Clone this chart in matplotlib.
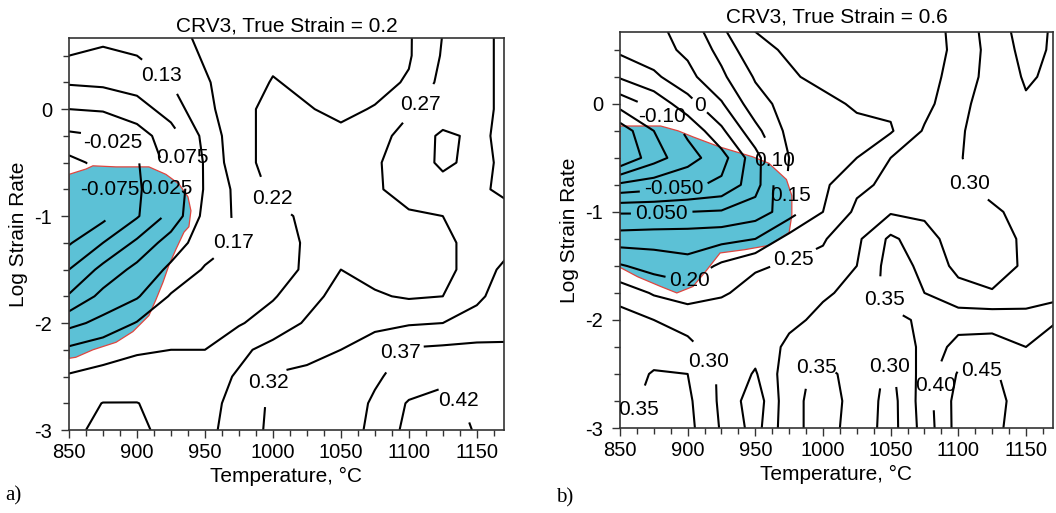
import numpy as np
import matplotlib
matplotlib.use("Agg")
import matplotlib.pyplot as plt
from matplotlib.ticker import MultipleLocator

plt.rcParams['font.family'] = ['Liberation Sans', 'DejaVu Sans']
plt.rcParams['axes.unicode_minus'] = False
plt.rcParams['contour.negative_linestyle'] = 'solid'

# grid: temperature [C] x log10(strain rate [1/s])
temps = [850, 875, 900, 925, 950, 975, 1000, 1025, 1050, 1075, 1100, 1125, 1150, 1175]
log_rates = [-3.0, -2.75, -2.5, -2.25, -2.0, -1.75, -1.5, -1.25,
             -1.0, -0.75, -0.5, -0.25, 0.0, 0.25, 0.5, 0.75]

# a) true strain 0.2, rows follow log_rates
eta_a = [
    [0.26, 0.29, 0.285, 0.26, 0.26, 0.30, 0.335, 0.345, 0.355, 0.385, 0.44, 0.455, 0.42, 0.405],
    [0.255, 0.276, 0.276, 0.26, 0.26, 0.29, 0.335, 0.345, 0.355, 0.38, 0.43, 0.445, 0.41, 0.40],
    [0.23, 0.24, 0.245, 0.25, 0.255, 0.28, 0.33, 0.34, 0.35, 0.37, 0.39, 0.41, 0.405, 0.395],
    [0.185, 0.205, 0.22, 0.225, 0.225, 0.265, 0.29, 0.305, 0.325, 0.355, 0.38, 0.385, 0.39, 0.39],
    [0.11, 0.14, 0.178, 0.195, 0.205, 0.22, 0.25, 0.28, 0.295, 0.31, 0.32, 0.325, 0.335, 0.34],
    [0.03, 0.09, 0.12, 0.18, 0.20, 0.21, 0.22, 0.26, 0.29, 0.28, 0.27, 0.275, 0.32, 0.34],
    [-0.025, 0.04, 0.09, 0.135, 0.18, 0.195, 0.21, 0.23, 0.275, 0.26, 0.26, 0.265, 0.29, 0.35],
    [-0.08, -0.025, 0.035, 0.10, 0.15, 0.18, 0.205, 0.23, 0.25, 0.255, 0.26, 0.265, 0.29, 0.31],
    [-0.11, -0.09, -0.03, 0.04, 0.14, 0.185, 0.21, 0.235, 0.255, 0.26, 0.27, 0.275, 0.30, 0.31],
    [-0.11, -0.085, -0.035, 0.035, 0.13, 0.19, 0.235, 0.25, 0.255, 0.27, 0.29, 0.305, 0.315, 0.34],
    [-0.09, -0.06, -0.03, 0.045, 0.13, 0.21, 0.24, 0.25, 0.25, 0.27, 0.295, 0.335, 0.31, 0.34],
    [-0.035, -0.025, 0.005, 0.05, 0.14, 0.21, 0.24, 0.245, 0.235, 0.26, 0.29, 0.335, 0.315, 0.34],
    [0.025, 0.03, 0.05, 0.10, 0.16, 0.21, 0.24, 0.228, 0.215, 0.228, 0.27, 0.29, 0.31, 0.34],
    [0.08, 0.085, 0.10, 0.125, 0.17, 0.20, 0.228, 0.215, 0.205, 0.21, 0.23, 0.29, 0.31, 0.34],
    [0.125, 0.115, 0.125, 0.15, 0.18, 0.20, 0.215, 0.21, 0.205, 0.21, 0.22, 0.28, 0.31, 0.34],
    [0.14, 0.145, 0.15, 0.165, 0.185, 0.19, 0.20, 0.205, 0.21, 0.21, 0.22, 0.275, 0.31, 0.34],
]

# b) true strain 0.6
eta_b = [
    [0.33, 0.37, 0.365, 0.295, 0.23, 0.335, 0.37, 0.33, 0.28, 0.37, 0.47, 0.46, 0.43, 0.42],
    [0.33, 0.365, 0.36, 0.29, 0.22, 0.335, 0.37, 0.335, 0.28, 0.375, 0.47, 0.465, 0.43, 0.42],
    [0.32, 0.355, 0.35, 0.29, 0.245, 0.33, 0.365, 0.33, 0.29, 0.37, 0.455, 0.455, 0.43, 0.42],
    [0.31, 0.32, 0.31, 0.28, 0.27, 0.31, 0.33, 0.33, 0.32, 0.36, 0.42, 0.42, 0.40, 0.41],
    [0.32, 0.30, 0.285, 0.275, 0.27, 0.29, 0.31, 0.33, 0.335, 0.36, 0.375, 0.38, 0.375, 0.40],
    [0.28, 0.245, 0.225, 0.245, 0.265, 0.28, 0.295, 0.31, 0.37, 0.35, 0.32, 0.305, 0.315, 0.33],
    [0.205, 0.18, 0.165, 0.21, 0.245, 0.255, 0.265, 0.30, 0.37, 0.34, 0.285, 0.27, 0.31, 0.33],
    [0.125, 0.13, 0.13, 0.135, 0.15, 0.22, 0.245, 0.29, 0.36, 0.32, 0.275, 0.275, 0.31, 0.32],
    [0.045, 0.045, 0.05, 0.055, 0.075, 0.125, 0.20, 0.26, 0.295, 0.29, 0.285, 0.295, 0.31, 0.33],
    [-0.09, -0.075, -0.06, -0.04, 0.03, 0.16, 0.19, 0.24, 0.26, 0.27, 0.295, 0.31, 0.32, 0.34],
    [-0.25, -0.17, -0.12, -0.07, 0.03, 0.15, 0.18, 0.20, 0.25, 0.27, 0.297, 0.32, 0.33, 0.34],
    [-0.23, -0.15, -0.09, -0.01, 0.085, 0.165, 0.18, 0.19, 0.195, 0.255, 0.295, 0.32, 0.335, 0.34],
    [-0.13, -0.085, -0.02, 0.045, 0.13, 0.17, 0.19, 0.205, 0.21, 0.235, 0.285, 0.325, 0.345, 0.34],
    [-0.045, -0.01, 0.035, 0.09, 0.155, 0.195, 0.21, 0.215, 0.22, 0.23, 0.27, 0.32, 0.355, 0.34],
    [0.01, 0.03, 0.06, 0.115, 0.19, 0.205, 0.21, 0.215, 0.22, 0.23, 0.26, 0.32, 0.365, 0.34],
    [0.03, 0.04, 0.075, 0.15, 0.205, 0.21, 0.215, 0.22, 0.225, 0.235, 0.26, 0.33, 0.37, 0.34],
]

levels_a = [-0.075, -0.025, 0.025, 0.075, 0.125, 0.175, 0.225, 0.275, 0.325, 0.375, 0.425]
names_a = ["-0.075", "-0.025", "0.025", "0.075", "0.13", "0.17", "0.22", "0.27", "0.32", "0.37", "0.42"]
levels_b = [-0.20, -0.15, -0.10, -0.05, 0.0, 0.05, 0.10, 0.15, 0.20, 0.25, 0.30, 0.35, 0.40, 0.45]
names_b = ["-0.20", "-0.15", "-0.10", "-0.050", "0", "0.050", "0.10", "0.15", "0.20", "0.25",
           "0.30", "0.35", "0.40", "0.45"]

# where the labels sit on the original maps
lab_a_T = [917, 884, 938, 881, 921, 998, 1105, 976, 994, 1086, 1137]
lab_a_L = [0.30, -0.28, -0.45, -0.74, -0.74, -0.85, 0.065, -1.27, -2.55, -2.2, -2.72]
lab_b_T = [879, 907, 890, 881, 961, 974, 902, 979, 1104, 917, 1039, 991, 1044, 865, 1079, 1117]
lab_b_L = [-0.15, -0.04, -0.80, -1.06, -0.52, -0.86, -1.65, -1.46, -0.75, -2.37, -1.87, -2.38,
           -2.37, -2.83, -2.6, -2.46]

# flow instability domains
unstable_a_T = [850, 862.5, 867.6, 884.6, 908.8, 921.3, 930.9, 937.5, 939.7, 938.2, 934.6, 928.7,
                923.5, 919.1, 914, 908.8, 897, 884.6, 867.6, 855, 850]
unstable_a_L = [-0.61, -0.56, -0.53, -0.54, -0.54, -0.61, -0.70, -0.82, -0.95, -1.10, -1.15, -1.31,
                -1.46, -1.62, -1.78, -1.93, -2.08, -2.18, -2.25, -2.32, -2.33]
unstable_b_T = [850, 880, 893, 904, 924, 948, 960, 973, 977, 977, 975, 960, 942, 924, 914, 904,
                892, 880, 863, 851, 850]
unstable_b_L = [-0.205, -0.205, -0.25, -0.306, -0.40, -0.49, -0.55, -0.70, -0.85, -1.03, -1.19,
                -1.31, -1.35, -1.38, -1.54, -1.69, -1.75, -1.69, -1.60, -1.52, -1.51]

fig = plt.figure(figsize=(10.56, 5.13), dpi=100)
ax_a = fig.add_axes([69 / 1056, 1 - 430 / 513, 435 / 1056, 392 / 513])
ax_b = fig.add_axes([620 / 1056, 1 - 428 / 513, 433 / 1056, 396 / 513])

panels = [
    (ax_a, eta_a, levels_a, names_a, lab_a_T, lab_a_L, unstable_a_T, unstable_a_L,
     "CRV3, True Strain = 0.2", 5),
    (ax_b, eta_b, levels_b, names_b, lab_b_T, lab_b_L, unstable_b_T, unstable_b_L,
     "CRV3, True Strain = 0.6", 7),
]

for ax, eta, levels, names, lt, ll, ut, ul, title, tpad in panels:
    ax.fill(ut, ul, facecolor="#5cc1d6", edgecolor="#e0463f", linewidth=0.9, zorder=1)
    cs = ax.contour(temps, log_rates, np.array(eta), levels=levels, colors="black",
                    linewidths=1.5, zorder=2)
    fmt = dict(zip(cs.levels, names))
    texts = ax.clabel(cs, fmt=fmt, manual=list(zip(lt, ll)), inline=True,
                      inline_spacing=4, fontsize=15)
    for t in texts:
        t.set_rotation(0)

    ax.set_xlim(850, 1170)
    ax.set_ylim(-3, 0.665)
    ax.xaxis.set_major_locator(MultipleLocator(50))
    ax.xaxis.set_minor_locator(MultipleLocator(12.5))
    ax.yaxis.set_major_locator(MultipleLocator(1))
    ax.yaxis.set_minor_locator(MultipleLocator(0.25))
    ax.tick_params(which="both", direction="out", top=False, right=False,
                   color="#333333", width=1.0, labelsize=14.5)
    ax.tick_params(which="major", length=6)
    ax.tick_params(which="minor", length=4)
    ax.tick_params(axis="y", pad=6)
    ax.tick_params(axis="x", pad=3)
    for sp in ax.spines.values():
        sp.set_color("#333333")
        sp.set_linewidth(1.2)

    ax.set_title(title, fontsize=15, pad=tpad)
    ax.set_xlabel("Temperature, °C", fontsize=15)
    ax.set_ylabel("Log Strain Rate", fontsize=15)
    ax.xaxis.set_label_coords(0.5, -0.093)
    ax.yaxis.set_label_coords(-0.095, 0.5)

fig.text(0.005, 0.025, "a)", family=["Liberation Serif"], fontsize=15)
fig.text(0.527, 0.02, "b)", family=["Liberation Serif"], fontsize=15)

fig.savefig("out.png", dpi=100)
